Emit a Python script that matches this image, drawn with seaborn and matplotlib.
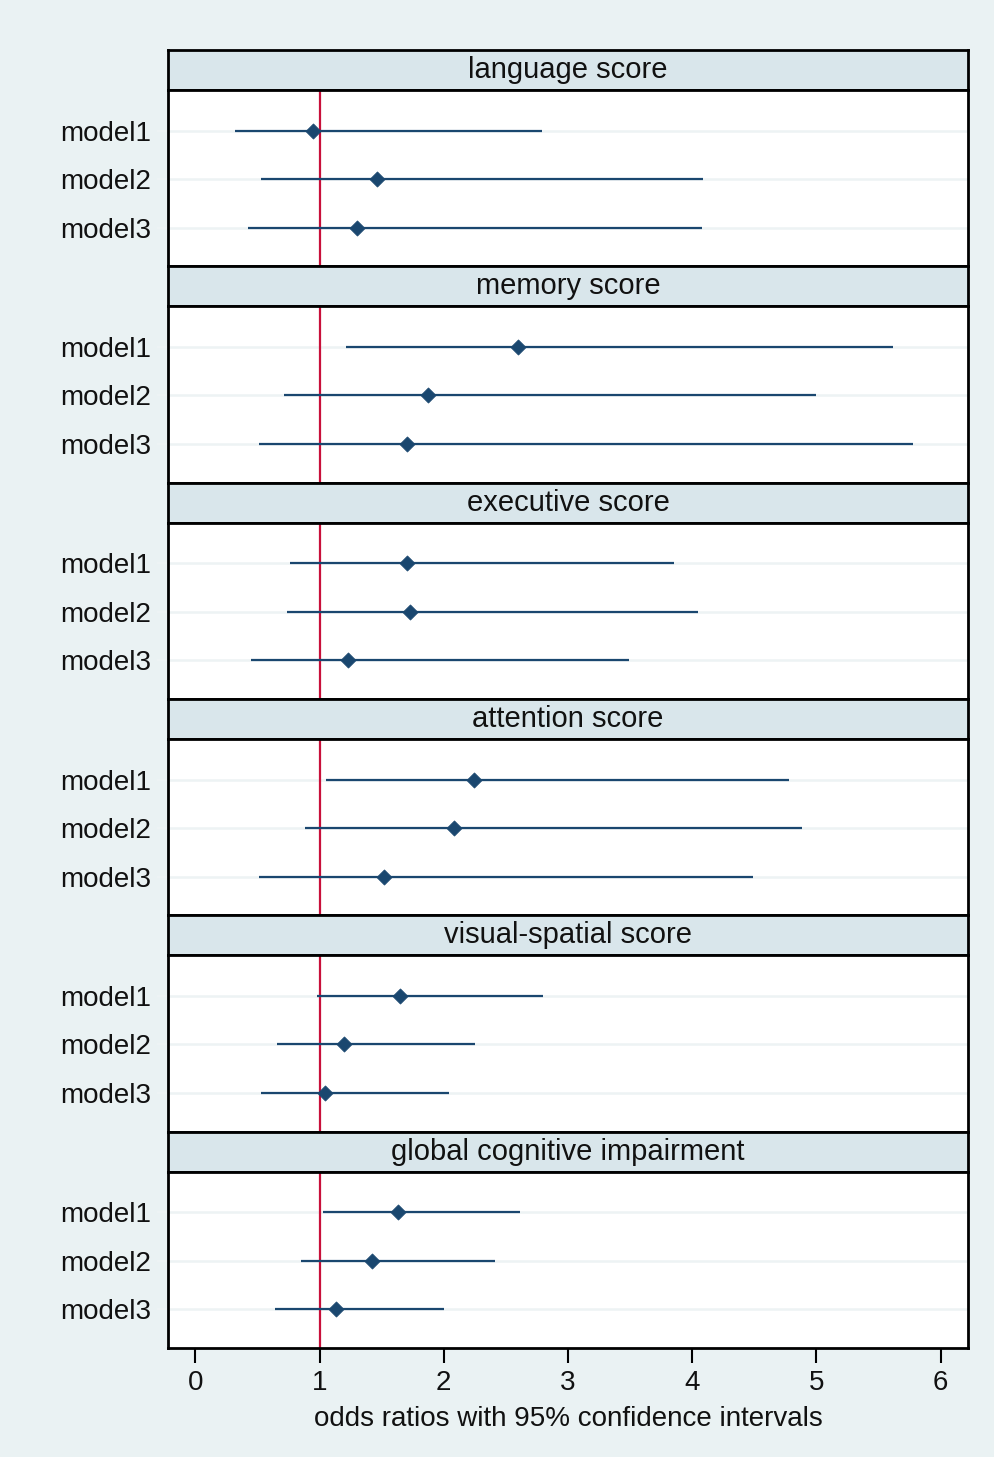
import numpy as np
import pandas as pd
import seaborn as sns
import matplotlib.pyplot as plt
from matplotlib.gridspec import GridSpec

# values
outcomes = ["language score", "memory score", "executive score",
            "attention score", "visual-spatial score", "global cognitive impairment"]
models = ["model1", "model2", "model3"]

odds_ratio = [
    [0.95, 1.46, 1.30],
    [2.60, 1.87, 1.70],
    [1.70, 1.73, 1.23],
    [2.24, 2.08, 1.52],
    [1.65, 1.20, 1.04],
    [1.63, 1.42, 1.13],
]
ci_low = [
    [0.32, 0.53, 0.42],
    [1.21, 0.71, 0.51],
    [0.76, 0.74, 0.45],
    [1.05, 0.88, 0.51],
    [0.98, 0.66, 0.53],
    [1.03, 0.85, 0.64],
]
ci_high = [
    [2.79, 4.09, 4.08],
    [5.62, 5.00, 5.78],
    [3.85, 4.05, 3.49],
    [4.78, 4.88, 4.49],
    [2.80, 2.25, 2.04],
    [2.61, 2.41, 2.00],
]
x_ticks = [0, 1, 2, 3, 4, 5, 6]

rows = []
for i, oc in enumerate(outcomes):
    for j, m in enumerate(models):
        rows.append({"outcome": oc, "model": m, "pos": j,
                     "or": odds_ratio[i][j], "lo": ci_low[i][j], "hi": ci_high[i][j]})
df = pd.DataFrame(rows)

sns.set_theme(style="white")
plt.rcParams["font.family"] = ["Liberation Sans", "DejaVu Sans"]

BG = "#EAF2F3"
STRIP = "#D9E6EB"
NAVY = "#1A476F"
RED = "#C8103A"
GRID = "#EDF3F4"
TXT = "#111111"

fig = plt.figure(figsize=(9.94, 14.57), dpi=100, facecolor=BG)
gs = GridSpec(12, 1, figure=fig, height_ratios=[40, 176] * 6, hspace=0,
              left=168 / 994, right=968 / 994, top=1 - 50 / 1457, bottom=1 - 1348 / 1457)

first_ax = None
for i, oc in enumerate(outcomes):
    # strip header
    sax = fig.add_subplot(gs[2 * i])
    sax.set_facecolor(STRIP)
    sax.set_xticks([])
    sax.set_yticks([])
    for sp in sax.spines.values():
        sp.set_color("black")
        sp.set_linewidth(2)
    sax.text(0.5, 0.5, oc, ha="center", va="center", fontsize=21, color=TXT,
             transform=sax.transAxes)

    ax = fig.add_subplot(gs[2 * i + 1], sharex=first_ax)
    if first_ax is None:
        first_ax = ax
    ax.set_facecolor("white")
    sub = df[df["outcome"] == oc]

    for p in sub["pos"]:
        ax.axhline(p, color=GRID, lw=1.8, zorder=0)
    ax.axvline(1, color=RED, lw=1.6, zorder=1)
    ax.hlines(sub["pos"], sub["lo"], sub["hi"], color=NAVY, lw=1.6, zorder=2)
    sns.scatterplot(data=sub, x="or", y="pos", marker="D", s=60, color=NAVY,
                    edgecolor=NAVY, linewidth=0.5, ax=ax, legend=False, zorder=3)

    ax.set_ylim(2.8, -0.84)
    ax.set_xlim(-0.22, 6.22)
    ax.set_yticks(range(len(models)))
    ax.set_yticklabels(models, fontsize=20, color=TXT)
    ax.tick_params(axis="y", length=8, width=1.5, color=GRID, pad=4, left=True)
    ax.set_xlabel("")
    ax.set_ylabel("")
    for sp in ax.spines.values():
        sp.set_color("black")
        sp.set_linewidth(2)

    if i < len(outcomes) - 1:
        ax.tick_params(axis="x", bottom=False, labelbottom=False)
    else:
        ax.set_xticks(x_ticks)
        ax.set_xticklabels([str(t) for t in x_ticks], fontsize=20, color=TXT)
        ax.tick_params(axis="x", bottom=True, length=11, width=1.5, color="black",
                       direction="out", pad=5)
        ax.set_xlabel("odds ratios with 95% confidence intervals", fontsize=20,
                      color=TXT, labelpad=7)

fig.savefig("out.png", dpi=100, facecolor=BG)
